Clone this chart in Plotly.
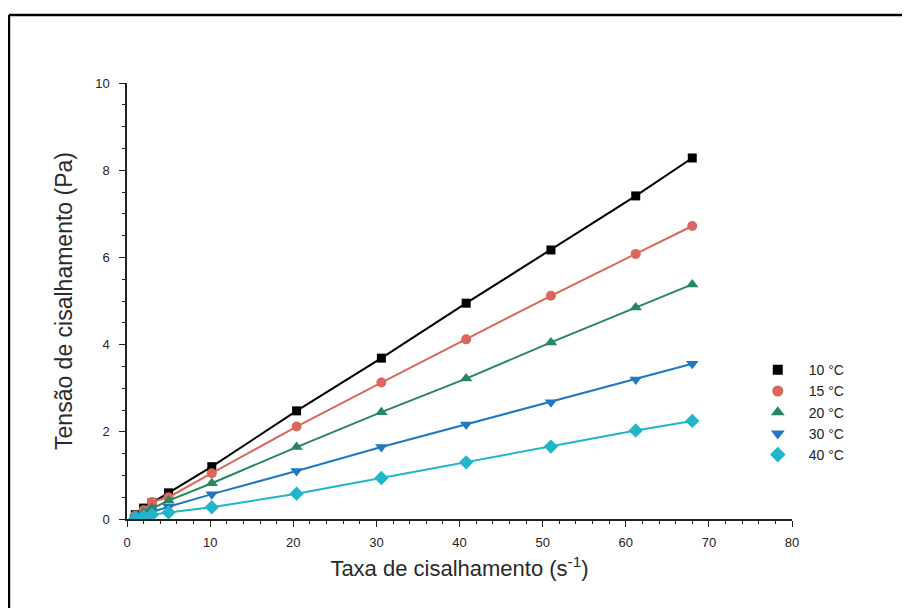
import plotly.graph_objects as go

shear_rate = [1, 2, 3, 5, 10.2, 20.4, 30.6, 40.8, 51, 61.2, 68]
stress_10 = [0.10, 0.25, 0.37, 0.60, 1.20, 2.48, 3.69, 4.95, 6.17, 7.41, 8.28]
stress_15 = [0.08, 0.20, 0.39, 0.50, 1.05, 2.12, 3.13, 4.12, 5.12, 6.08, 6.72]
stress_20 = [0.06, 0.15, 0.25, 0.42, 0.82, 1.65, 2.45, 3.22, 4.05, 4.85, 5.38]
stress_30 = [0.04, 0.10, 0.17, 0.28, 0.57, 1.10, 1.65, 2.17, 2.68, 3.20, 3.56]
stress_40 = [0.02, 0.06, 0.10, 0.15, 0.27, 0.58, 0.94, 1.30, 1.66, 2.03, 2.25]
labels = ["10 °C", "15 °C", "20 °C", "30 °C", "40 °C"]

series = [stress_10, stress_15, stress_20, stress_30, stress_40]
colors = ["#000000", "#d9675f", "#27875f", "#1f78c1", "#22b4c9"]
symbols = ["square", "circle", "triangle-up", "triangle-down", "diamond"]
sizes = [9, 10, 11, 11, 11]
FONT = "Liberation Sans, Arial"

fig = go.Figure()
for ys, lab, c, s, sz in zip(series, labels, colors, symbols, sizes):
    fig.add_trace(go.Scatter(
        x=shear_rate, y=ys, name=lab, mode="lines+markers",
        line=dict(color=c, width=2),
        marker=dict(symbol=s, size=sz, color=c),
        showlegend=False, legendgroup=lab,
    ))
# legend entries showing only the marker symbol
for lab, c, s, sz in zip(labels, colors, symbols, sizes):
    fig.add_trace(go.Scatter(
        x=[None], y=[None], name=lab, mode="markers",
        marker=dict(symbol=s, size=sz + 1, color=c),
        legendgroup=lab,
    ))

axis_common = dict(
    showgrid=False, zeroline=False, showline=True, linecolor="#222",
    linewidth=1.5, ticks="outside", ticklen=6, tickcolor="#222",
    tickfont=dict(family=FONT, size=13, color="#222"),
    minor=dict(ticks="outside", ticklen=3, tickcolor="#222"),
)
fig.update_xaxes(range=[0, 80], dtick=10, ticklabelstandoff=5, **axis_common,
                 title=dict(text="Taxa de cisalhamento (s<sup>-1</sup>)",
                            font=dict(family=FONT, size=22, color="#2a2a2a"),
                            standoff=11))
fig.update_yaxes(range=[0, 10], dtick=2, ticklabelstandoff=7, **axis_common,
                 title=dict(text="Tensão de cisalhamento (Pa)",
                            font=dict(family=FONT, size=23, color="#2a2a2a"),
                            standoff=16))

fig.update_layout(
    width=910, height=608,
    margin=dict(l=119, r=126, t=75, b=97),
    paper_bgcolor="white", plot_bgcolor="white",
    showlegend=True,
    legend=dict(x=0.932, y=0.378, xanchor="left", yanchor="top",
                font=dict(family=FONT, size=14, color="#222"),
                bgcolor="rgba(0,0,0,0)", tracegroupgap=0, itemwidth=52),
    shapes=[
        dict(type="line", xref="paper", yref="paper", x0=-0.1775, x1=-0.1775,
             y0=-0.25, y1=1.156, line=dict(color="black", width=2.5)),
        dict(type="line", xref="paper", yref="paper", x0=-0.1775, x1=1.2,
             y0=1.156, y1=1.156, line=dict(color="black", width=2.5)),
    ],
)

fig.write_html("out.html")
